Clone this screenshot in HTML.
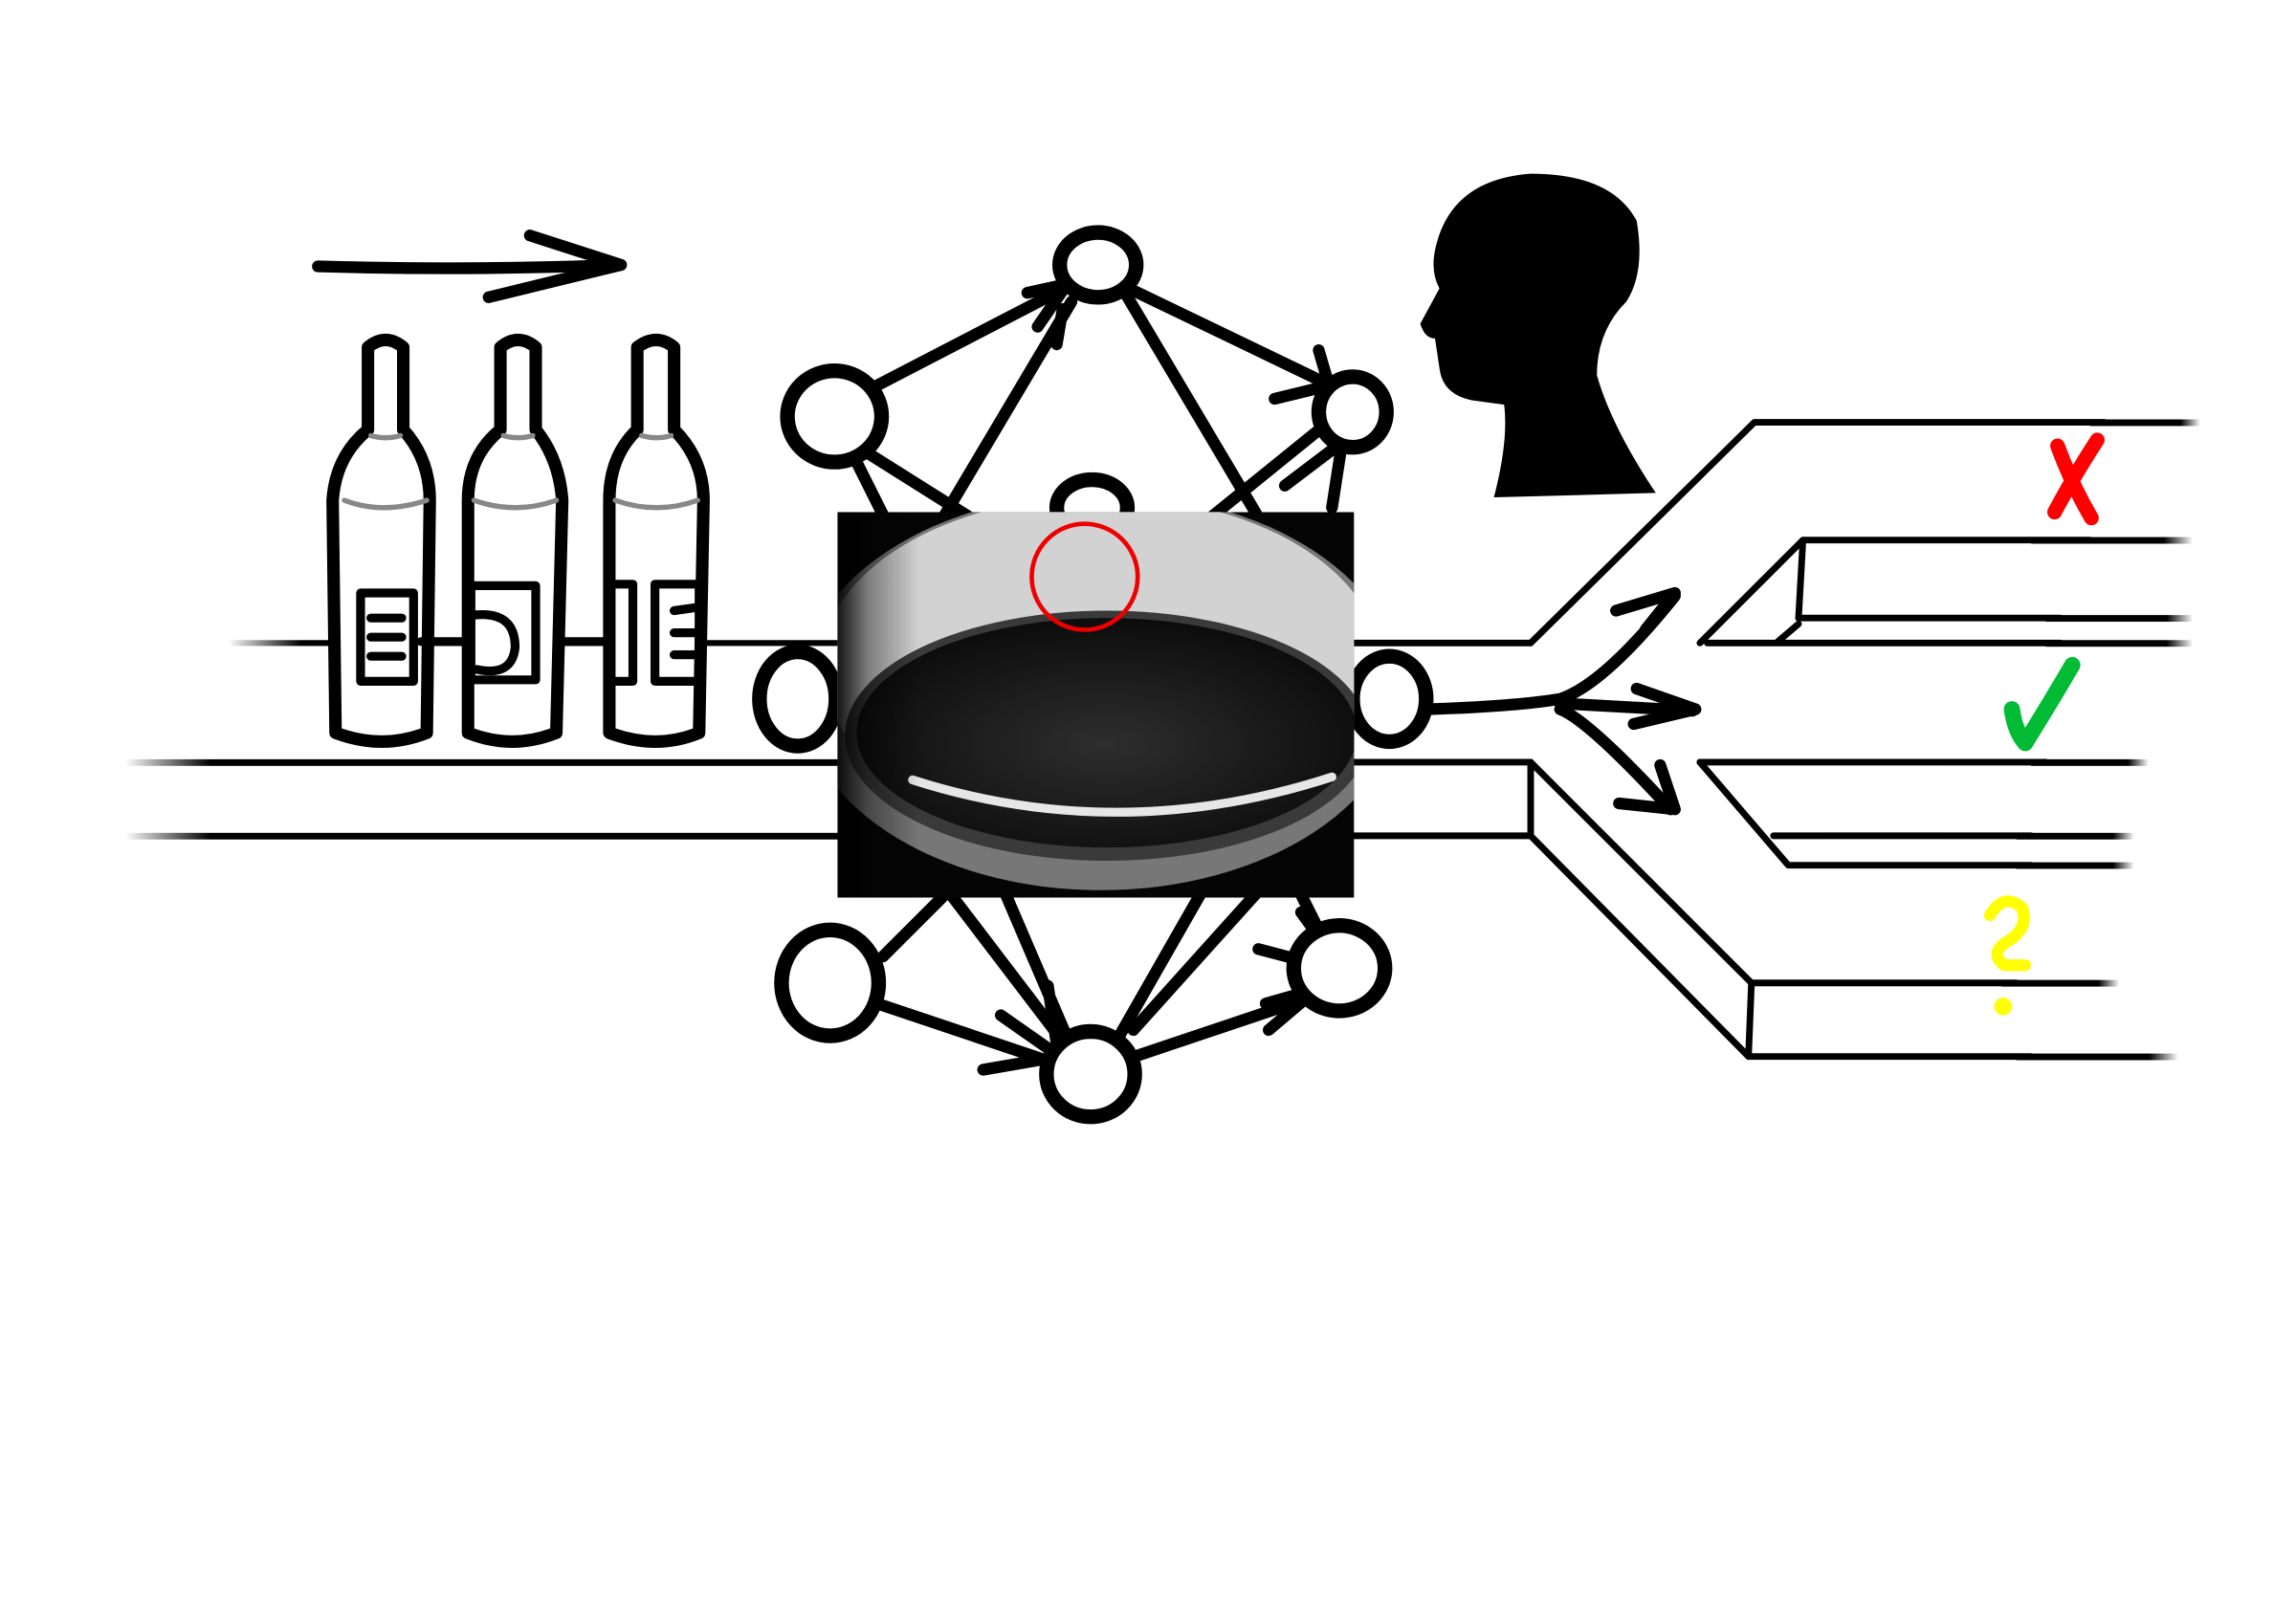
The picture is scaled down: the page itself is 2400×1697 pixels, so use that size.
<!DOCTYPE html>
<html><head><meta charset="utf-8"><style>html,body{margin:0;padding:0;background:#fff}svg{display:block}</style></head><body>
<svg width="2400" height="1697" viewBox="0 0 1560 1103" xmlns="http://www.w3.org/2000/svg">
<defs>
<linearGradient id="fr" x1="0" x2="1" y1="0" y2="0"><stop offset="0.82" stop-color="#000"/><stop offset="1" stop-color="#000" stop-opacity="0"/></linearGradient>
<linearGradient id="fl" x1="0" x2="1" y1="0" y2="0"><stop offset="0" stop-color="#000" stop-opacity="0"/><stop offset="0.12" stop-color="#000"/></linearGradient>
<radialGradient id="inner" cx="0.5" cy="0.55" r="0.55"><stop offset="0" stop-color="#2e2e2e"/><stop offset="1" stop-color="#0c0c0c"/></radialGradient>
<linearGradient id="lg" x1="0" x2="1"><stop offset="0" stop-color="#000" stop-opacity="0.9"/><stop offset="0.06" stop-color="#000" stop-opacity="0.4"/><stop offset="0.16" stop-color="#000" stop-opacity="0"/></linearGradient>
<clipPath id="pc"><rect x="569" y="348" width="351" height="262"/></clipPath>
</defs>
<rect width="1560" height="1103" fill="#fff"/>
<g fill="none" stroke-linecap="round" stroke-linejoin="round">
<rect x="155" y="435" width="415" height="4" fill="url(#fl)" stroke="none"/>
<rect x="85" y="516" width="485" height="4.5" fill="url(#fl)" stroke="none"/>
<rect x="85" y="566" width="485" height="4.5" fill="url(#fl)" stroke="none"/>
<g stroke="#000" stroke-width="4.5">
<line x1="920" y1="437" x2="1040" y2="437"/>
<line x1="920" y1="518" x2="1040" y2="518"/>
<line x1="920" y1="568" x2="1040" y2="568"/>
<polyline points="1040,437 1192,287 1430,287"/>
<polyline points="1155,437 1225,367 1420,367"/>
<line x1="1225" y1="367" x2="1222" y2="420"/>
<line x1="1222" y1="420" x2="1400" y2="420"/>
<line x1="1208" y1="436" x2="1222" y2="424"/>
<line x1="1160" y1="437" x2="1400" y2="437"/>
<line x1="1155" y1="518" x2="1390" y2="518"/>
<polyline points="1155,518 1215,588 1380,588"/>
<line x1="1205" y1="568" x2="1380" y2="568"/>
<polyline points="1040,518 1190,668 1370,668"/>
<line x1="1040" y1="518" x2="1040" y2="568"/>
<polyline points="1040,568 1188,718 1380,718"/>
<line x1="1190" y1="668" x2="1188" y2="718"/>
</g>
<rect x="1420" y="285" width="75" height="4.5" fill="url(#fr)" stroke="none"/>
<rect x="1380" y="365" width="110" height="4.5" fill="url(#fr)" stroke="none"/>
<rect x="1390" y="418" width="100" height="4.5" fill="url(#fr)" stroke="none"/>
<rect x="1390" y="435" width="100" height="4.5" fill="url(#fr)" stroke="none"/>
<rect x="1380" y="516" width="80" height="4.5" fill="url(#fr)" stroke="none"/>
<rect x="1370" y="566" width="80" height="4.5" fill="url(#fr)" stroke="none"/>
<rect x="1370" y="586" width="80" height="4.5" fill="url(#fr)" stroke="none"/>
<rect x="1360" y="666" width="80" height="4.5" fill="url(#fr)" stroke="none"/>
<rect x="1370" y="716" width="110" height="4.5" fill="url(#fr)" stroke="none"/>

<g stroke="#000" stroke-width="8">
<path d="M216 181 Q320 184 420 180"/>
<path d="M360 160 L422 180 L332 202"/>
</g>

<g stroke="#000" stroke-width="8.5" fill="#fff">
<path d="M250 236 Q262 226 274 236 L274 292 Q292 312 292 340 L290 498 Q260 510 228 498 L226 340 Q228 310 250 292 Z"/>
<path d="M340 236 Q352 226 364 236 L364 292 Q380 312 382 340 L378 498 Q348 510 318 498 L318 340 Q318 310 340 292 Z"/>
<path d="M433 236 Q446 226 458 236 L458 292 Q478 312 478 340 L475 498 Q446 510 414 498 L414 340 Q414 310 433 292 Z"/>
</g>
<g stroke="#888" stroke-width="3.5">
<path d="M234 340 Q260 350 290 340"/><path d="M252 296 Q262 299 272 296"/>
<path d="M322 340 Q350 350 378 340"/><path d="M342 296 Q352 299 362 296"/>
<path d="M418 340 Q446 350 474 340"/><path d="M436 296 Q446 299 456 296"/>
</g>
<g stroke="#000" stroke-width="6">
<rect x="245" y="403" width="36" height="60"/>
<line x1="252" y1="420" x2="273" y2="420"/><line x1="252" y1="433" x2="273" y2="433"/><line x1="252" y1="446" x2="273" y2="446"/>
<rect x="320" y="398" width="44" height="64"/>
<path d="M322 418 Q350 415 350 440 Q348 460 324 455"/>
<rect x="414" y="397" width="16" height="66"/>
<rect x="445" y="397" width="30" height="66"/>
<line x1="458" y1="415" x2="472" y2="413"/><line x1="458" y1="430" x2="472" y2="430"/><line x1="458" y1="445" x2="472" y2="445"/>
<line x1="286" y1="436" x2="318" y2="436"/><line x1="380" y1="436" x2="414" y2="436"/>
</g>

<g stroke="#000" stroke-width="8">
<line x1="590" y1="265" x2="725" y2="195"/>
<line x1="765" y1="195" x2="900" y2="260"/>
<line x1="585" y1="305" x2="720" y2="390"/>
<line x1="580" y1="310" x2="600" y2="350"/>
<line x1="728" y1="205" x2="630" y2="370"/>
<line x1="765" y1="200" x2="860" y2="360"/>
<line x1="800" y1="370" x2="905" y2="285"/>
<line x1="912" y1="300" x2="905" y2="345"/>
<line x1="590" y1="680" x2="715" y2="722"/>
<line x1="765" y1="720" x2="890" y2="678"/>
<line x1="600" y1="650" x2="650" y2="600"/>
<line x1="640" y1="600" x2="720" y2="705"/>
<line x1="680" y1="600" x2="725" y2="705"/>
<line x1="760" y1="705" x2="820" y2="600"/>
<line x1="770" y1="700" x2="860" y2="600"/>
<line x1="880" y1="600" x2="900" y2="640"/>
<path d="M698 199 L725 193 L705 222"/>
<path d="M722 210 L718 234"/>
<path d="M866 271 L903 262 L896 238"/>
<path d="M873 330 L906 305"/>
<path d="M680 690 L720 718 L668 727"/>
<path d="M712 670 L718 710"/>
<path d="M860 682 L895 672 L862 700"/>
<path d="M855 645 L893 655"/>
<path d="M884 620 L900 642"/>
</g>

<g stroke="#000" stroke-width="10" fill="#fff">
<ellipse cx="746" cy="180" rx="26" ry="22"/>
<ellipse cx="567" cy="283" rx="32" ry="31"/>
<ellipse cx="919" cy="280" rx="23" ry="24"/>
<ellipse cx="742" cy="345" rx="24" ry="19"/>
<ellipse cx="542" cy="475" rx="26" ry="32"/>
<ellipse cx="944" cy="475" rx="25" ry="29"/>
<ellipse cx="564" cy="668" rx="33" ry="36"/>
<ellipse cx="741" cy="730" rx="30" ry="29"/>
<ellipse cx="910" cy="658" rx="31" ry="29"/>
</g>

<g clip-path="url(#pc)">
<rect x="569" y="348" width="351" height="262" fill="#050505"/>
<ellipse cx="748" cy="470" rx="205" ry="135" fill="#777"/>
<ellipse cx="748" cy="452" rx="190" ry="115" fill="#d2d2d2"/>
<ellipse cx="752" cy="500" rx="178" ry="85" fill="#3a3a3a"/>
<ellipse cx="752" cy="498" rx="170" ry="78" fill="url(#inner)"/>
<path d="M620 530 Q760 575 905 528" stroke="#e6e6e6" stroke-width="6"/>
<rect x="569" y="348" width="351" height="262" fill="url(#lg)"/>
</g>
<circle cx="737" cy="392" r="36" stroke="#e00" stroke-width="3"/>

<g stroke="#000" stroke-width="8">
<path d="M970 482 Q1030 480 1060 475 Q1090 465 1138 405"/>
<path d="M1098 415 L1138 403 L1118 428"/>
<path d="M1060 478 L1150 483"/>
<path d="M1112 468 L1152 482 L1110 492"/>
<path d="M1060 482 Q1080 490 1135 550"/>
<path d="M1100 546 L1138 550 L1128 520"/>
</g>

<path d="M1015 338 L1125 335 Q1095 290 1085 255 Q1085 225 1105 205 Q1118 185 1112 150 Q1095 118 1040 118 Q985 122 975 170 Q972 185 978 196 L965 220 Q968 230 975 230 L978 250 Q980 268 1000 272 L1022 275 Q1025 300 1015 338 Z" fill="#000"/>

<path d="M1398 303 Q1408 330 1421 352 M1425 299 Q1410 322 1396 348" stroke="#f00" stroke-width="10"/>
<path d="M1367 482 Q1369 497 1376 505 Q1394 476 1408 452" stroke="#0b3" stroke-width="11"/>
<path d="M1352 622 Q1362 606 1374 617 Q1379 632 1362 641 Q1352 649 1362 656 L1376 656" stroke="#ff0" stroke-width="8"/>
</g>
<circle cx="1361" cy="684" r="6" fill="#ff0"/>
</svg>
</body></html>
